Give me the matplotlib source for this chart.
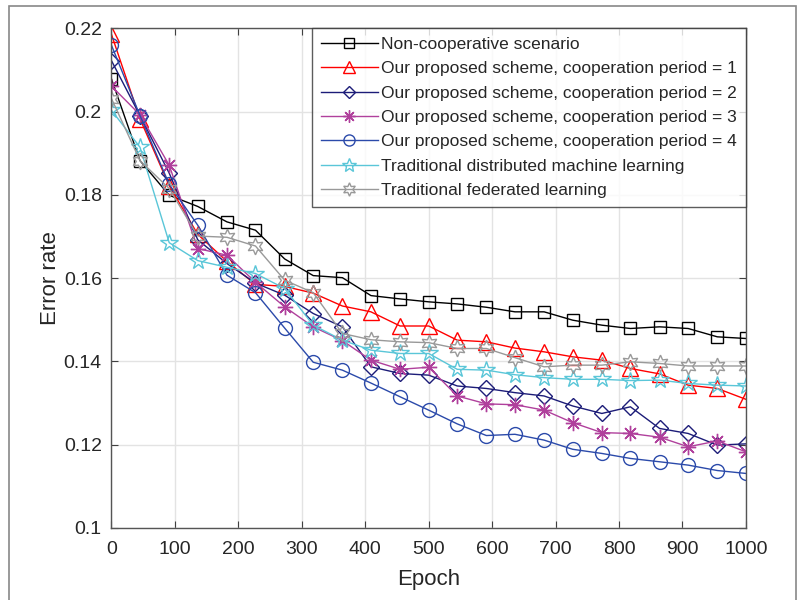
import matplotlib.pyplot as plt
from matplotlib.patches import Rectangle

plt.rcParams['font.family'] = ['Liberation Sans', 'DejaVu Sans']

epochs = [0, 45, 91, 136, 182, 227, 273, 318, 364, 409, 455, 500,
          545, 591, 636, 682, 727, 773, 818, 864, 909, 955, 1000]

non_coop = [0.2078, 0.1882, 0.1799, 0.1772, 0.1735, 0.1715, 0.1646, 0.1606,
            0.1601, 0.1558, 0.1550, 0.1543, 0.1538, 0.1530, 0.1519, 0.1519,
            0.1499, 0.1487, 0.1479, 0.1483, 0.1479, 0.1459, 0.1455]
period1 = [0.2185, 0.1982, 0.1822, 0.1705, 0.1640, 0.1585, 0.1580, 0.1564,
           0.1533, 0.1519, 0.1485, 0.1485, 0.1451, 0.1447, 0.1432, 0.1423,
           0.1411, 0.1403, 0.1383, 0.1370, 0.1343, 0.1335, 0.1309]
period2 = [0.2122, 0.1990, 0.1852, 0.1692, 0.1635, 0.1588, 0.1559, 0.1515,
           0.1483, 0.1387, 0.1371, 0.1367, 0.1341, 0.1335, 0.1325, 0.1317,
           0.1293, 0.1275, 0.1291, 0.1239, 0.1227, 0.1199, 0.1202]
period3 = [0.2061, 0.1992, 0.1871, 0.1671, 0.1655, 0.1590, 0.1531, 0.1483,
           0.1450, 0.1403, 0.1381, 0.1386, 0.1317, 0.1298, 0.1296, 0.1283,
           0.1253, 0.1229, 0.1227, 0.1218, 0.1195, 0.1209, 0.1183]
period4 = [0.2159, 0.1990, 0.1825, 0.1727, 0.1607, 0.1565, 0.1480, 0.1398,
           0.1379, 0.1348, 0.1315, 0.1283, 0.1250, 0.1222, 0.1225, 0.1211,
           0.1189, 0.1179, 0.1167, 0.1159, 0.1151, 0.1138, 0.1131]
distributed = [0.2003, 0.1914, 0.1685, 0.1642, 0.1626, 0.1611, 0.1575, 0.1487,
               0.1451, 0.1427, 0.1419, 0.1419, 0.1381, 0.1379, 0.1368, 0.1361,
               0.1357, 0.1357, 0.1354, 0.1355, 0.1347, 0.1343, 0.1341]
federated = [0.2031, 0.1882, 0.1815, 0.1701, 0.1698, 0.1677, 0.1595, 0.1565,
             0.1467, 0.1452, 0.1447, 0.1445, 0.1431, 0.1431, 0.1409, 0.1387,
             0.1391, 0.1391, 0.1399, 0.1395, 0.1389, 0.1389, 0.1389]

labels = ['Non-cooperative scenario',
          'Our proposed scheme, cooperation period = 1',
          'Our proposed scheme, cooperation period = 2',
          'Our proposed scheme, cooperation period = 3',
          'Our proposed scheme, cooperation period = 4',
          'Traditional distributed machine learning',
          'Traditional federated learning']

fig = plt.figure(figsize=(8.02, 6.0), dpi=100)
ax = fig.add_axes([0.139, 0.12, 0.791, 0.833])

# (data, color, marker, size)
series = [
    (non_coop, '#000000', 's', 9),
    (period1, '#ff0000', '^', 11),
    (period2, '#1c1c78', 'D', 8),
    (period3, '#b0409c', (8, 2, 0), 11),
    (period4, '#2b4aaa', 'o', 10),
    (distributed, '#5ac6d8', '*', 13),
    (federated, '#999999', (6, 1, 0), 12),
]

for (vals, col, mk, ms), lab in zip(series, labels):
    ax.plot(epochs, vals, color=col, marker=mk, markersize=ms,
            markerfacecolor='none', markeredgecolor=col,
            markeredgewidth=1.0, linewidth=1.0, label=lab)

ax.set_xlim(0, 1000)
ax.set_ylim(0.1, 0.22)
ax.set_xticks(range(0, 1001, 100))
ax.set_yticks([0.1, 0.12, 0.14, 0.16, 0.18, 0.2, 0.22])
ax.set_yticklabels(['0.1', '0.12', '0.14', '0.16', '0.18', '0.2', '0.22'])
ax.grid(True, color='#e3e3e3', linewidth=1.0)
ax.set_axisbelow(True)
ax.tick_params(direction='in', top=True, right=True, length=5,
               labelsize=14, colors='#404040', labelcolor='#262626')
ax.tick_params(axis='x', pad=9)
ax.tick_params(axis='y', pad=7)
for sp in ax.spines.values():
    sp.set_color('#555555')
    sp.set_linewidth(1.0)

ax.set_xlabel('Epoch', fontsize=16, color='#262626', labelpad=8)
ax.set_ylabel('Error rate', fontsize=16, color='#262626', labelpad=2)

leg = ax.legend(loc='upper right', fontsize=12.5, frameon=True, fancybox=False,
                borderaxespad=0, handlelength=3.3, handletextpad=0.2,
                labelspacing=0.53, borderpad=0.5, markerscale=0.8)
leg.get_frame().set_edgecolor('#333333')
leg.get_frame().set_linewidth(1.0)
for t in leg.get_texts():
    t.set_color('#262626')

fig.patches.append(Rectangle((0.011, -0.01), 0.981, 1.0, transform=fig.transFigure,
                             fill=False, edgecolor='#888888', linewidth=1.2))

fig.savefig('out.png', dpi=100)
